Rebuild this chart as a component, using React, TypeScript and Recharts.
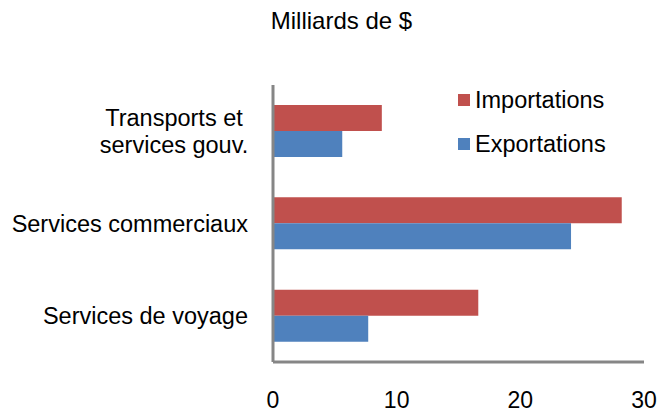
import React from 'react';
import { BarChart, Bar, XAxis, YAxis, Legend } from 'recharts';

const categories = ['Transports et\nservices gouv.', 'Services commerciaux', 'Services de voyage'];
const seriesNames = ['Importations', 'Exportations'];
const importations = [8.8, 28.2, 16.6];
const exportations = [5.6, 24.1, 7.7];
const xTicks = [0, 10, 20, 30];

const data = categories.map((name, i) => ({
  name,
  importations: importations[i],
  exportations: exportations[i],
}));

const FONT = '"Liberation Sans", Arial, sans-serif';
const RED = '#C0504D';
const BLUE = '#4F81BD';
const AXIS = '#868686';

// wrapped labels are centred on their block, single ones right-aligned
const CategoryTick = ({ x, y, payload }: any) => {
  const lines: string[] = String(payload.value).split('\n');
  const multi = lines.length > 1;
  const tx = multi ? x - 74 : x;
  return (
    <text x={tx} y={y} textAnchor={multi ? 'middle' : 'end'} fontFamily={FONT} fontSize={23.5} fill="#000">
      {lines.map((line, i) => (
        <tspan key={i} x={tx} dy={i === 0 ? (multi ? -5.5 : 8) : 27}>
          {line}
        </tspan>
      ))}
    </text>
  );
};

// keep the legend in the same order as the bars (imports first)
const LegendContent = ({ payload }: any) => {
  const items = [...(payload || [])].sort(
    (a: any, b: any) => seriesNames.indexOf(a.value) - seriesNames.indexOf(b.value)
  );
  return (
    <div style={{ fontFamily: FONT, fontSize: 23.5, color: '#000' }}>
      {items.map((entry: any) => (
        <div key={entry.value} style={{ height: 44, display: 'flex', alignItems: 'center' }}>
          <span style={{ width: 12, height: 12, background: entry.color, marginRight: 5, display: 'inline-block' }} />
          <span>{entry.value}</span>
        </div>
      ))}
    </div>
  );
};

export default function App() {
  return (
    <div style={{ position: 'absolute', left: 0, top: 0, width: 671, height: 413, background: '#fff' }}>
      <div
        style={{
          position: 'absolute',
          top: 9,
          left: 0,
          width: 683,
          textAlign: 'center',
          fontFamily: FONT,
          fontSize: 24,
          lineHeight: '24px',
          color: '#000',
        }}
      >
        Milliards de $
      </div>
      <BarChart
        width={671}
        height={413}
        data={data}
        layout="vertical"
        margin={{ top: 85, right: 27, bottom: 0, left: 0 }}
        barSize={26}
        barGap={0}
      >
        <XAxis
          type="number"
          domain={[0, 30]}
          ticks={xTicks}
          height={51}
          axisLine={{ stroke: AXIS, strokeWidth: 3 }}
          tickLine={false}
          tickSize={0}
          tickMargin={30}
          tick={{ fill: '#000', fontSize: 23, fontFamily: FONT }}
        />
        <YAxis
          type="category"
          dataKey="name"
          width={273}
          axisLine={{ stroke: AXIS, strokeWidth: 3 }}
          tickLine={false}
          tickSize={0}
          tickMargin={25}
          tick={<CategoryTick />}
          interval={0}
        />
        <Legend
          layout="vertical"
          align="center"
          verticalAlign="middle"
          content={<LegendContent />}
          wrapperStyle={{ top: 78, left: 458, width: 210 }}
        />
        <Bar dataKey="importations" name={seriesNames[0]} fill={RED} isAnimationActive={false} />
        <Bar dataKey="exportations" name={seriesNames[1]} fill={BLUE} isAnimationActive={false} />
      </BarChart>
    </div>
  );
}
